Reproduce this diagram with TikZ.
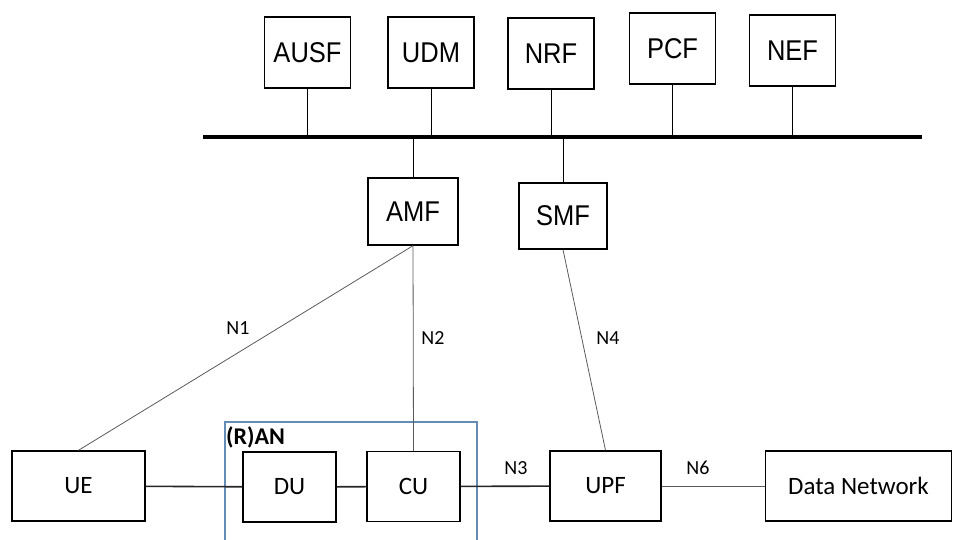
\documentclass[tikz,border=0pt]{standalone}
\usepackage{fontspec}
\setmainfont{Carlito}
\newfontfamily\arialfont{Liberation Sans}
\definecolor{ranblue}{RGB}{100,140,180}
\definecolor{linkgray}{RGB}{90,90,90}
\newcommand{\nftext}[1]{\scalebox{1}[1.12]{#1}}
\tikzset{
  nfbox/.style={draw, line width=1.4pt, minimum width=86pt, minimum height=71pt,
    inner sep=0pt, font=\arialfont\fontsize{25.5}{30}\selectfont},
  anbox/.style={draw, line width=1.4pt, minimum height=70pt,
    inner sep=0pt, font=\fontsize{25}{30}\selectfont},
  thinlink/.style={draw=linkgray, line width=0.8pt},
  thicklink/.style={draw=black!85, line width=1.6pt},
  nlabel/.style={font=\fontsize{20}{24}\selectfont, inner sep=0pt}
}
\begin{document}
\begin{tikzpicture}[x=1pt,y=-1pt]
  \useasboundingbox (0,0) rectangle (953,540);

  % service based functions
  \node [nfbox] (ausf) at (307.5,52.5) {\nftext{AUSF}};
  \node [nfbox] (udm)  at (431,52.5)  {\nftext{UDM}};
  \node [nfbox] (nrf)  at (551,53.5)  {\nftext{NRF}};
  \node [nfbox] (pcf)  at (672.5,48.5) {\nftext{PCF}};
  \node [nfbox] (nef)  at (792.5,50.5) {\nftext{NEF}};

  % bus
  \coordinate (busL) at (203,137);
  \coordinate (busR) at (922,137);
  \draw [line width=3.5pt] (busL) -- (busR);

  \foreach \nf in {ausf,udm,nrf,pcf,nef}
    \draw [line width=1pt] (\nf.south) -- (\nf.south |- busL);

  \node [nfbox, minimum width=90pt, minimum height=67pt] (amf) at (413,211.5) {\nftext{AMF}};
  \node [nfbox, minimum width=88pt, minimum height=66pt] (smf) at (563,216)   {\nftext{SMF}};
  \draw [line width=1pt] (amf.north) -- (amf.north |- busL);
  \draw [line width=1pt] (smf.north) -- (smf.north |- busL);

  % access network
  \node [anbox, minimum width=133pt] (ue)  at (78.5,486)  {UE};
  \node [anbox, minimum width=93pt]  (du)  at (289.5,487) {DU};
  \node [anbox, minimum width=93pt]  (cu)  at (413.5,486.5) {CU};
  \node [anbox, minimum width=111pt] (upf) at (605.5,486) {UPF};
  \node [anbox, minimum width=186pt] (dn)  at (858.5,486) {Data Network};

  \draw [draw=ranblue, line width=1.3pt] (225,545) -- (225,422) -- (477,422) -- (477,545);
  \node [font=\bfseries\fontsize{24}{29}\selectfont, anchor=west, inner sep=0pt] (ranlabel) at (226,437) {(R)AN};

  % links
  \draw [thinlink] (amf.south) -- (ue.north);
  \draw [thinlink] (amf.south) -- (cu.north);
  \draw [thinlink] (smf.south) -- (upf.north);
  \draw [thicklink] (ue) -- (du);
  \draw [thicklink] (du) -- (cu);
  \draw [thicklink] (cu) -- (upf);
  \draw [thinlink] (upf) -- (dn);

  \node [nlabel] (n1) at (238,328) {N1};
  \node [nlabel] (n2) at (433,338) {N2};
  \node [nlabel] (n4) at (608,338) {N4};
  \node [nlabel] (n3) at (516,468) {N3};
  \node [nlabel] (n6) at (698,468) {N6};

\end{tikzpicture}
\end{document}
